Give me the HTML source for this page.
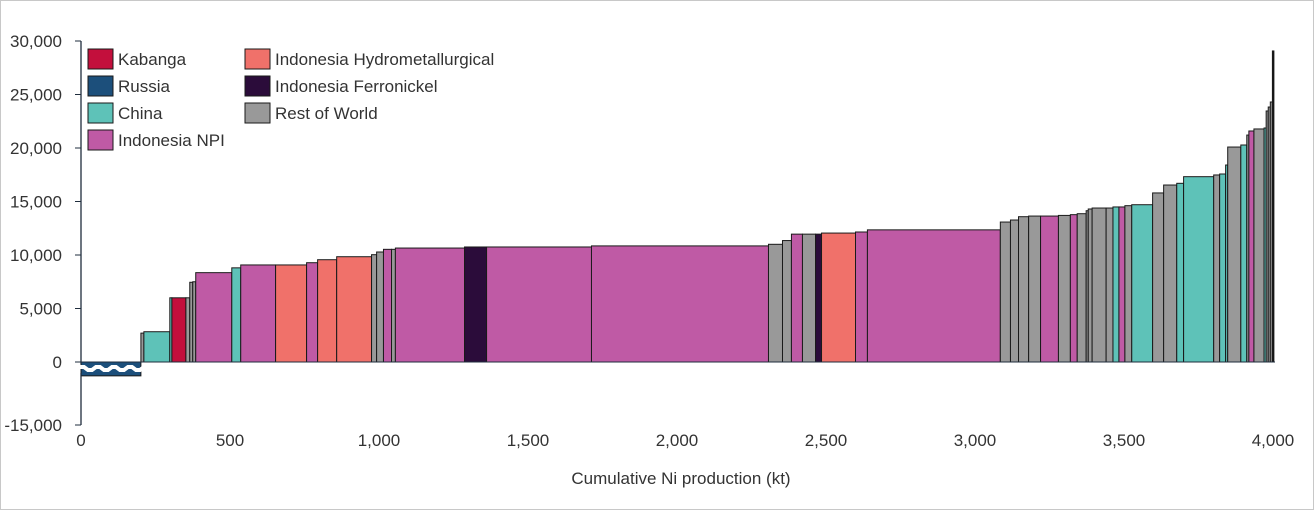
<!DOCTYPE html>
<html><head><meta charset="utf-8">
<style>
body{margin:0;background:#fff;}
#wrap{position:relative;width:1314px;height:510px;overflow:hidden;}
svg text{font-family:"Liberation Sans",Arial,sans-serif;fill:#333;}
</style></head>
<body>
<div id="wrap">
<svg id="chart" width="1314" height="510"></svg>
</div>
<script>
const categories = ["Kabanga","Russia","China","Indonesia NPI","Indonesia Hydrometallurgical","Indonesia Ferronickel","Rest of World"];
const colors = {"Kabanga":"#c30f3c","Russia":"#1c4f7b","China":"#5ec2b8","Indonesia NPI":"#bf5aa5","Indonesia Hydrometallurgical":"#f0716a","Indonesia Ferronickel":"#2b0c3a","Rest of World":"#999999"};
const R="Rest of World",T="China",M="Indonesia NPI",S="Indonesia Hydrometallurgical",F="Indonesia Ferronickel";
const barGroups = ["Russia",R,T,T,"Kabanga",R,R,R,M,T,M,S,M,S,S,R,R,M,R,M,F,M,M,R,R,M,R,F,S,M,M,
 R,R,R,R,M,R,M,R,R,R,R,R,T,M,R,T,R,R,T,T,R,T,T,R,T,R,M,R,T,R,R,R,R];
const productionKt = [201,10,87,7,47,13,10,10,121,30,117,104,37,64,117,17,23,27,13,232,74,352,594,47,30,37,44,20,114,40,446,
 34,27,34,40,60,40,23,30,7,13,47,23,20,20,23,70,37,44,23,101,20,20,7,44,20,7,17,34,7,7,7,7,5];
const costUsd = [-3300,2700,2830,6000,6000,6000,7450,7500,8350,8800,9070,9070,9280,9560,9840,10030,10280,10530,10530,10650,10750,10750,10850,11000,11350,11950,11950,11950,12050,12150,12350,
 13080,13270,13580,13640,13640,13700,13770,13860,14140,14300,14390,14390,14490,14490,14610,14700,15800,16540,16700,17320,17480,17570,18410,20090,20280,21210,21590,21780,21870,23460,23830,24300,29070];
const yTicks = [30000,25000,20000,15000,10000,5000,0,-15000];
const yTickLabels = ["30,000","25,000","20,000","15,000","10,000","5,000","0","-15,000"];
const xTicks = [0,500,1000,1500,2000,2500,3000,3500,4000];
const xTickLabels = ["0","500","1,000","1,500","2,000","2,500","3,000","3,500","4,000"];

const NS="http://www.w3.org/2000/svg";
const svg=document.getElementById('chart');
function el(tag,attrs,parent){const e=document.createElementNS(NS,tag);for(const k in attrs)e.setAttribute(k,attrs[k]);(parent||svg).appendChild(e);return e;}
const x0=81,xScale=1192/4000;
function xPos(v){return x0+v*xScale;}
function yPos(v){return v>=0?362-v*(321/30000):362-v*(63/15000);}

const border=el('rect',{x:0.5,y:0.5,width:1313,height:509,fill:'none',stroke:'#c8c8c8'});



let cum=0;
for(let i=0;i<productionKt.length;i++){
  const xa=xPos(cum),xb=xPos(cum+productionKt[i]);cum+=productionKt[i];
  const v=costUsd[i];const ya=yPos(Math.max(v,0)),yb=yPos(Math.min(v,0));
  const last=i===productionKt.length-1;
  const r=el('rect',{x:xa,y:ya,width:Math.max(xb-xa,1),height:yb-ya,fill:last?'#111':colors[barGroups[i]],stroke:'#1a1a1a','stroke-width':1});
  
  
}
let zz="M72,367";for(let x=72,k=0;x<=148;x+=8,k++){zz+=" L"+(x+4)+","+(k%2?367:370)+" L"+(x+8)+","+(k%2?370:367);}
const zw=el('path',{d:zz,fill:'none',stroke:'#fff','stroke-width':4});


const ya1=el('line',{x1:81,y1:41,x2:81,y2:364,stroke:'#1f2d3d','stroke-width':1.3});


const ya2=el('line',{x1:81,y1:373,x2:81,y2:425,stroke:'#1f2d3d','stroke-width':1.3});


const xa=el('line',{x1:81,y1:362,x2:1275,y2:362,stroke:'#1f2d3d','stroke-width':1});


yTicks.forEach((t,i)=>{
  const y=yPos(t);
  const tk=el('line',{x1:75,y1:y,x2:81,y2:y,stroke:'#1f2d3d'});
  
  
  const tx=el('text',{x:62,y:y+6,'text-anchor':'end','font-size':17});
  tx.textContent=yTickLabels[i];
  
  
});
xTicks.forEach((t,i)=>{
  const tx=el('text',{x:xPos(t),y:446,'text-anchor':'middle','font-size':17});
  tx.textContent=xTickLabels[i];
  
  
});
const xt=el('text',{x:681,y:484,'text-anchor':'middle','font-size':17});
xt.textContent="Cumulative Ni production (kt)";


const legendOrder=[["Kabanga",88,59],["Russia",88,86],["China",88,113],["Indonesia NPI",88,140],["Indonesia Hydrometallurgical",245,59],["Indonesia Ferronickel",245,86],["Rest of World",245,113]];
legendOrder.forEach(([c,x,y])=>{
  const g=el('g',{});
  
  
  el('rect',{x:x,y:y-10,width:25,height:20,fill:colors[c],stroke:'#1a1a1a'},g);
  const t=el('text',{x:x+30,y:y+6,'font-size':17},g);t.textContent=c;
});
</script>
</body></html>
